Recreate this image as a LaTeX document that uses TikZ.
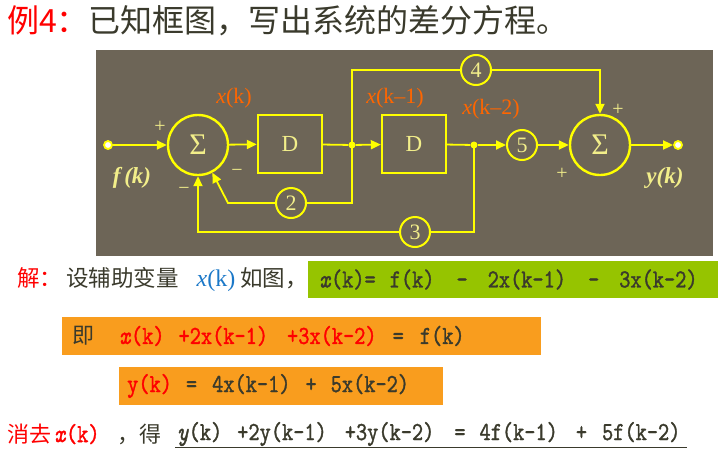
\documentclass[tikz,border=0pt]{standalone}
\usepackage{fontspec}
\usetikzlibrary{arrows.meta}
\setmainfont{Liberation Serif}
\newfontfamily\cjk{Noto Sans CJK SC}
\newfontfamily\eqf[ItalicFont=lmmono10-italic.otf,FakeStretch=0.82,FakeBold=1.3]{lmmono10-regular.otf}
\newcommand\eqs[1]{{\eqf\fontsize{26}{26}\selectfont #1}}
\newcommand\gp[1]{\hspace{#1pt}}
\definecolor{panel}{HTML}{6D6557}
\definecolor{ylw}{HTML}{FFFF00}
\definecolor{lyel}{HTML}{F2EE8A}
\definecolor{org}{HTML}{FF6600}
\definecolor{dtext}{HTML}{3A3A2C}
\definecolor{gbox}{HTML}{96C400}
\definecolor{obox}{HTML}{F99D1E}
\definecolor{bluex}{HTML}{1B78C8}
\definecolor{redt}{HTML}{FF0000}
\begin{document}
\begin{tikzpicture}[x=1pt,y=-1pt,
  sumnode/.style={circle, draw=ylw, line width=2.4pt, minimum size=60pt, inner sep=0pt, text=lyel, font=\fontsize{30}{30}\selectfont},
  dbox/.style={rectangle, draw=ylw, line width=2.4pt, minimum width=64pt, minimum height=58pt, inner sep=0pt, text=lyel, font=\fontsize{23}{23}\selectfont},
  gain/.style={circle, draw=ylw, line width=2pt, minimum size=30pt, inner sep=0pt, text=lyel, font=\fontsize{22}{22}\selectfont},
  term/.style={circle, draw=ylw, fill=white, line width=1.8pt, minimum size=8pt, inner sep=0pt},
  junc/.style={circle, fill=ylw, minimum size=7pt, inner sep=0pt},
  wire/.style={draw=ylw, line width=1.8pt},
  arr/.style={wire, -{Triangle[length=10pt,width=9pt]}},
  sign/.style={text=lyel, inner sep=0pt, font=\fontsize{20}{20}\selectfont},
  sigl/.style={text=lyel, inner sep=0pt, font=\fontsize{23}{23}\selectfont\bfseries\itshape},
  vlab/.style={text=org, inner sep=0pt, font=\fontsize{22}{22}\selectfont},
  ebox/.style={anchor=west, align=left, minimum height=38pt, inner ysep=0pt, text=dtext}
]
\useasboundingbox (0,0) rectangle (725,450);
\fill[white] (0,0) rectangle (725,450);
\fill[panel] (96,50) rectangle (713,256);

% diagram nodes
\node[term] (in) at (108,145) {};
\node[sumnode] (s1) at (198,145) {Σ};
\node[dbox] (d1) at (290,144) {D};
\node[junc] (j1) at (352,145) {};
\node[dbox] (d2) at (414,144) {D};
\node[junc] (j2) at (474,145) {};
\node[gain] (g5) at (522,145) {5};
\node[sumnode] (s2) at (600,145) {Σ};
\node[term] (out) at (678,145) {};
\node[gain] (g4) at (476,70) {4};
\node[gain] (g2) at (291,203) {2};
\node[gain] (g3) at (415,232) {3};
\coordinate (k2) at (228,203);

% connectors
\draw[arr] (in) -- (s1);
\draw[arr] (s1) -- (d1);
\draw[wire] (d1) -- (j1);
\draw[arr] (j1) -- (d2);
\draw[wire] (d2) -- (j2);
\draw[arr] (j2) -- (g5);
\draw[arr] (g5) -- (s2);
\draw[arr] (s2) -- (out);
\draw[wire] (j1.center) |- (g4);
\draw[arr] (g4) -| (s2);
\draw[wire] (j1.center) |- (g2);
\draw[arr] (g2) -- (k2) -- (s1);
\draw[wire] (j2.center) |- (g3);
\draw[arr] (g3) -| (s1);

% signs and labels
\node[sign] (p1) at (160,127) {+};
\node[sign] (m1) at (237,173) {−};
\node[sign] (m2) at (184,191) {−};
\node[sign] (p2) at (618,110) {+};
\node[sign] (p3) at (562,174) {+};
\node[sigl] (fk) at (132,178) {f\,(k)};
\node[sigl] (yk) at (665,178) {y(k)};
\node[vlab] (xk) at (234,98) {\textit{x}(k)};
\node[vlab] (xk1) at (395,98) {\textit{x}(k–1)};
\node[vlab] (xk2) at (491,109) {\textit{x}(k–2)};

% texts
\node[anchor=west, inner sep=0pt] (title) at (7,21) {\cjk\fontsize{32}{32}\selectfont\color{redt}例4：\color{dtext}已知框图，写出系统的差分方程。};
\node[anchor=west, inner sep=0pt] (sol) at (17,279) {\cjk\fontsize{22.5}{22.5}\selectfont\color{redt}解：\gp{4}\color{dtext}设辅助变量\gp{18}{\rmfamily\color{bluex}\fontsize{24}{24}\selectfont\textit{x}(k)}\gp{5}如图，};
\node[ebox, fill=gbox, text width=388pt, inner xsep=11pt, minimum height=37pt] (eq0) at (308,279.5) {\eqs{\textit{x}(k)=\gp{14}f(k)\gp{22}-\gp{20}2x(k-1)\gp{22}-\gp{20}3x(k-2)}};
\node[ebox, fill=obox, text width=459pt, inner xsep=10pt] (eq1) at (62,336) {{\cjk\fontsize{22}{22}\selectfont 即}\gp{25}\eqs{\color{redt}\textit{x}(k)\gp{14}+2x(k-1)\gp{19}+3x(k-2)\gp{16}\color{dtext}=\gp{16}f(k)}};
\node[ebox, fill=obox, text width=308pt, inner xsep=8pt] (eq2) at (119,386) {\eqs{\color{redt}y(k)\gp{14}\color{dtext}=\gp{15}4x(k-1)\gp{15}+\gp{14}5x(k-2)}};
\node[anchor=west, inner sep=0pt] (lead) at (7,434) {{\cjk\fontsize{22}{22}\selectfont\color{redt}消去}\gp{3}\eqs{\color{redt}\textit{x}(k)}\gp{18}{\cjk\fontsize{22}{22}\selectfont\color{dtext}，得}};
\node[anchor=west, inner xsep=0pt, inner ysep=1.5pt, text=dtext] (eq3) at (177,434) {\eqs{\textit{y}(k)\gp{15}+2y(k-1)\gp{18}+3y(k-2)\gp{20}=\gp{14}4f(k-1)\gp{18}+\gp{15}5f(k-2)}};
\draw[dtext, line width=1.2pt] ([xshift=-2pt]eq3.south west) -- ([xshift=6pt]eq3.south east);
\end{tikzpicture}
\end{document}
